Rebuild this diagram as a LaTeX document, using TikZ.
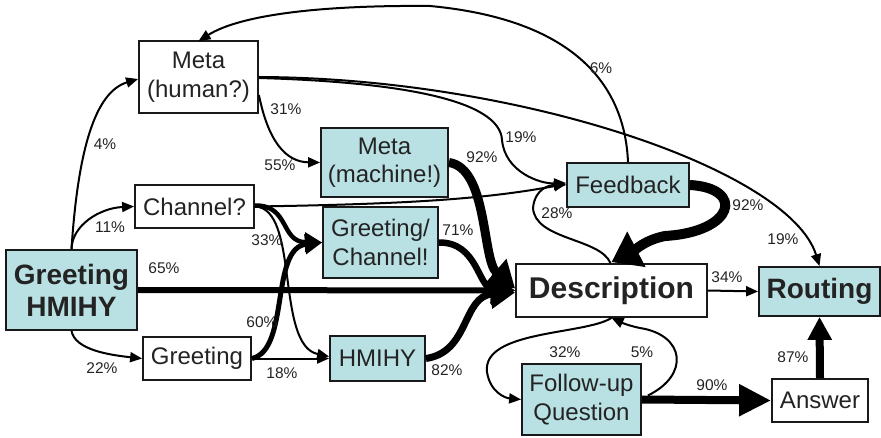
\documentclass[tikz,border=0pt]{standalone}
\usepackage{fontspec}
\setmainfont{Liberation Sans}
\usetikzlibrary{arrows.meta,calc}
\definecolor{boxblue}{RGB}{185,224,227}
\definecolor{txt}{RGB}{35,35,35}
\begin{document}
\begin{tikzpicture}[x=1pt,y=-1pt,
  box/.style={draw=black!90,line width=1.8pt,fill=white,inner sep=0pt,align=center,text=txt,font=\fontsize{24}{28.5}\selectfont},
  bbox/.style={box,fill=boxblue},
  boldtxt/.style={font=\fontsize{28}{32}\selectfont\bfseries},
  lab/.style={font=\fontsize{15.5}{18}\selectfont,text=txt,inner sep=0pt},
  thin/.style={line width=2pt,-{Triangle[length=12pt,width=10pt]}},
  thk/.style n args={3}{line width=#1,-{Triangle[length=#2,width=#3]}}
]
\useasboundingbox (0,0) rectangle (881,438);

% nodes
\node[box,minimum width=119pt,minimum height=72pt] (mh) at (198.5,77) {Meta\\(human?)};
\node[bbox,minimum width=127pt,minimum height=69pt] (mm) at (384.5,162.5) {Meta\\(machine!)};
\node[box,minimum width=119pt,minimum height=43pt] (ch) at (194.5,206.5) {Channel?};
\node[bbox,minimum width=115pt,minimum height=71pt] (gc) at (380.5,242.5) {Greeting/\\Channel!};
\node[bbox,boldtxt,minimum width=131pt,minimum height=80pt] (gh) at (71.5,290) {Greeting\\HMIHY};
\node[box,minimum width=108pt,minimum height=43pt] (gr) at (197,358.5) {Greeting};
\node[bbox,minimum width=95pt,minimum height=45pt] (hm) at (377.5,358.5) {HMIHY};
\node[bbox,minimum width=122pt,minimum height=44pt] (fb) at (628,185) {Feedback};
\node[box,font=\fontsize{30}{34}\selectfont\bfseries,minimum width=191pt,minimum height=53pt] (de) at (611.5,290.5) {Description};
\node[bbox,boldtxt,minimum width=121pt,minimum height=49pt] (ro) at (819.5,291.5) {Routing};
\node[bbox,minimum width=119pt,minimum height=71pt] (fq) at (581.5,399.5) {Follow-up\\Question};
\node[box,minimum width=96pt,minimum height=43pt] (an) at (820,400.5) {Answer};

% thin connectors
\draw[thin] (gh.north) .. controls (78,150) and (95,92) .. ($(mh.west)+(0,2)$);
\draw[thin] (gh.north) .. controls (72,225) and (100,208) .. (ch.west);
\draw[thin] (gh.south) .. controls (75,350) and (110,355) .. (gr.west);
\draw[thin] ($(mh.east)+(0,18)$) .. controls (268,140) and (285,162) .. (mm.west);
\draw[thin] ($(mh.east)+(0,1)$) .. controls (400,82) and (500,100) .. (502,140) .. controls (505,172) and (540,184) .. ($(fb.west)+(0,-2)$);
\draw[thin] (mh.east) .. controls (520,78) and (790,170) .. (ro.north);
\draw[thin] (fb.north) .. controls (625,90) and (580,20) .. (430,6) .. controls (320,5) and (240,15) .. ($(mh.north)+(0,1)$);
\draw[thin] (ch.east) .. controls (420,204) and (490,198) .. ($(fb.west)+(0,-1)$);
\draw[thin] (ch.east) .. controls (300,208) and (275,345) .. ($(hm.west)+(0,-2)$);
\draw[thin] (gr.east) -- (hm.west);
\draw[thin] ($(de.north)+(-1,0)$) .. controls (600,238) and (535,240) .. (533,208) .. controls (535,188) and (550,185) .. (fb.west);
\draw[thin] (de.east) -- (ro.west);
\draw[thin] (de.south) .. controls (585,335) and (482,330) .. (487,372) .. controls (490,392) and (505,398) .. (fq.west);
\draw[thin] ($(fq.east)+(6,-4)$) .. controls (690,375) and (685,335) .. (640,328) .. controls (625,325) and (616,320) .. (de.south);

% thick connectors
\draw[thk={6pt}{24pt}{28pt}] (gh.east) -- (de.west);
\draw[thk={4.5pt}{17pt}{19pt}] ($(ch.east)+(0,-1)$) .. controls (290,205) and (280,242) .. (gc.west);
\draw[thk={5pt}{17pt}{19pt}] (gr.east) .. controls (290,350) and (270,248) .. (gc.west);
\draw[thk={9pt}{26pt}{32pt}] (mm.east) .. controls (488,168) and (482,260) .. ($(de.west)+(0,-2)$);
\draw[thk={6.5pt}{24pt}{28pt}] (gc.east) .. controls (478,242) and (478,288) .. (de.west);
\draw[thk={7pt}{24pt}{28pt}] (hm.east) .. controls (470,352) and (462,296) .. ($(de.west)+(0,2)$);
\draw[thk={10pt}{28pt}{38pt}] (fb.east) .. controls (745,188) and (735,232) .. (665,236) .. controls (645,240) and (635,250) .. ($(de.north)+(0,-1)$);
\draw[thk={8pt}{32pt}{30pt}] (fq.east) -- (an.west);
\draw[thk={8pt}{23pt}{23pt}] (an.north) -- (ro.south);

% labels
\node[lab] (l4) at (105,144) {4\%};
\node[lab] (l31) at (286,109) {31\%};
\node[lab] (l55) at (280,165) {55\%};
\node[lab] (l11) at (110,227) {11\%};
\node[lab] (l33) at (267,240) {33\%};
\node[lab] (l65) at (164,268) {65\%};
\node[lab] (l60) at (262,322) {60\%};
\node[lab] (l22) at (102,368) {22\%};
\node[lab] (l18) at (282,373) {18\%};
\node[lab] (l82) at (447,370) {82\%};
\node[lab] (l71) at (458,230) {71\%};
\node[lab] (l92a) at (482,157) {92\%};
\node[lab] (l19a) at (521,137) {19\%};
\node[lab] (l6) at (601,68) {6\%};
\node[lab] (l28) at (557,213) {28\%};
\node[lab] (l92b) at (748,205) {92\%};
\node[lab] (l19b) at (783,239) {19\%};
\node[lab] (l34) at (727,277) {34\%};
\node[lab] (l32) at (565,352) {32\%};
\node[lab] (l5) at (642,352) {5\%};
\node[lab] (l90) at (712,385) {90\%};
\node[lab] (l87) at (793,357) {87\%};
\end{tikzpicture}
\end{document}
